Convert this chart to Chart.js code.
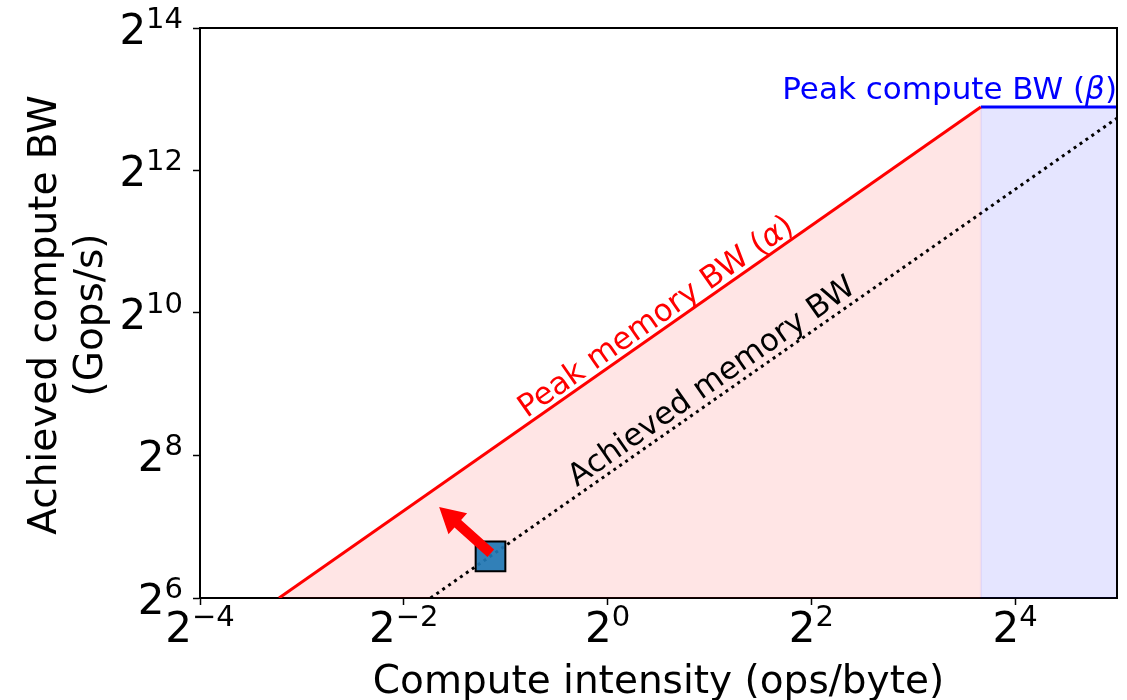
<!DOCTYPE html>
<html>
<head>
<meta charset="utf-8">
<script src="https://cdn.jsdelivr.net/npm/chart.js@4/dist/chart.umd.min.js"></script>
<style>
  html, body { margin: 0; padding: 0; background: #fff; }
  #wrap { width: 1127px; height: 700px; position: relative; }
</style>
</head>
<body>
<div id="wrap"><canvas id="roofline" width="1127" height="700"></canvas></div>
<script>
// Axis ranges and tick exponents (base 2)
const xTickExponents = [-4, -2, 0, 2, 4];
const yTickExponents = [6, 8, 10, 12, 14];
const xRange = [0.0625, 32];
const yRange = [64, 16384];

// Roofline: peak memory BW (alpha ~ 600 GB/s) and peak compute BW (beta ~ 7600 Gops/s)
const memRoofIntensity = [0.107, 12.67];
const memRoofPerf = [64, 7600];
const computeRoofIntensity = [12.67, 32];
const computeRoofPerf = [7600, 7600];

// Achieved memory bandwidth (~213 GB/s)
const achievedIntensity = [0.3, 32];
const achievedPerf = [64, 6816];

// Measured kernel and the direction of improvement
const kernelIntensity = [0.451];
const kernelPerf = [96];
const arrowFrom = [0.452, 99];
const arrowTo = [0.318, 155];

// Annotation anchors (data coordinates)
const peakMemLabelAt = [1.395, 980];
const achievedLabelAt = [2.04, 521];
const peakComputeLabelAt = [32, 7600];

const FONT = '"DejaVu Sans", "Liberation Sans", sans-serif';
const PLOT_BOX = { left: 200, top: 28, right: 1117, bottom: 598 };

function pts(xs, ys) { return xs.map((x, i) => ({ x: x, y: ys[i] })); }

// Draw a run of text pieces (some italic) starting at x
function drawRuns(ctx, runs, x, y, size, align) {
  const widths = runs.map(r => {
    ctx.font = (r.italic ? 'italic ' : '') + size + 'px ' + FONT;
    return ctx.measureText(r.t).width;
  });
  const total = widths.reduce((a, b) => a + b, 0);
  let cx = x;
  if (align === 'center') cx = x - total / 2;
  else if (align === 'right') cx = x - total;
  ctx.textAlign = 'left';
  runs.forEach((r, i) => {
    ctx.font = (r.italic ? 'italic ' : '') + size + 'px ' + FONT;
    ctx.fillText(r.t, cx, y);
    cx += widths[i];
  });
}

// "2" with a superscript exponent
function drawPow2(ctx, exp, x, baseline, align) {
  const baseSize = 42, expSize = 29;
  const expText = exp < 0 ? '\u2212' + Math.abs(exp) : String(exp);
  ctx.font = baseSize + 'px ' + FONT;
  const wb = ctx.measureText('2').width;
  ctx.font = expSize + 'px ' + FONT;
  const we = ctx.measureText(expText).width;
  const total = wb + we;
  let left = x;
  if (align === 'center') left = x - total / 2;
  else if (align === 'right') left = x - total;
  ctx.textAlign = 'left';
  ctx.textBaseline = 'alphabetic';
  ctx.font = baseSize + 'px ' + FONT;
  ctx.fillText('2', left, baseline);
  ctx.font = expSize + 'px ' + FONT;
  ctx.fillText(expText, left + wb, baseline - 16);
}

// Pin the plotting rectangle
const plotBox = {
  id: 'plotBox',
  afterLayout(chart) {
    const a = chart.chartArea;
    a.left = PLOT_BOX.left; a.top = PLOT_BOX.top;
    a.right = PLOT_BOX.right; a.bottom = PLOT_BOX.bottom;
    a.width = a.right - a.left; a.height = a.bottom - a.top;
    const xs = chart.scales.x, ys = chart.scales.y;
    xs.left = a.left; xs.right = a.right; xs.width = a.width;
    xs.top = a.bottom; xs.bottom = chart.height; xs.height = xs.bottom - xs.top;
    ys.top = a.top; ys.bottom = a.bottom; ys.height = a.height;
    ys.left = 0; ys.right = a.left; ys.width = a.left;
    xs.configure(); ys.configure();
  }
};

const decorations = {
  id: 'decorations',
  afterDatasetsDraw(chart) {
    const ctx = chart.ctx;
    const xs = chart.scales.x, ys = chart.scales.y;
    const area = chart.chartArea;

    // faint edge of the compute-bound region
    ctx.save();
    ctx.beginPath();
    ctx.rect(area.left, area.top, area.right - area.left, area.bottom - area.top);
    ctx.clip();
    const rx = xs.getPixelForValue(computeRoofIntensity[0]);
    ctx.strokeStyle = 'rgba(110, 0, 170, 0.08)';
    ctx.lineWidth = 2;
    ctx.beginPath();
    ctx.moveTo(rx, ys.getPixelForValue(computeRoofPerf[0]));
    ctx.lineTo(rx, area.bottom);
    ctx.stroke();
    ctx.restore();

    // improvement arrow
    const x0 = xs.getPixelForValue(arrowFrom[0]), y0 = ys.getPixelForValue(arrowFrom[1]);
    const x1 = xs.getPixelForValue(arrowTo[0]), y1 = ys.getPixelForValue(arrowTo[1]);
    const dx = x1 - x0, dy = y1 - y0;
    const len = Math.hypot(dx, dy);
    const ux = dx / len, uy = dy / len;
    const nx = -uy, ny = ux;
    const shaft = 5, headW = 14, headL = 25;
    const bx = x1 - ux * headL, by = y1 - uy * headL;
    ctx.save();
    ctx.fillStyle = '#ff0000';
    ctx.beginPath();
    ctx.moveTo(x0 + nx * shaft, y0 + ny * shaft);
    ctx.lineTo(bx + nx * shaft, by + ny * shaft);
    ctx.lineTo(bx + nx * headW, by + ny * headW);
    ctx.lineTo(x1, y1);
    ctx.lineTo(bx - nx * headW, by - ny * headW);
    ctx.lineTo(bx - nx * shaft, by - ny * shaft);
    ctx.lineTo(x0 - nx * shaft, y0 - ny * shaft);
    ctx.closePath();
    ctx.fill();
    ctx.restore();
  },
  afterDraw(chart) {
    const ctx = chart.ctx;
    const xs = chart.scales.x, ys = chart.scales.y;
    const area = chart.chartArea;

    // top and right spines
    ctx.save();
    ctx.strokeStyle = '#000';
    ctx.lineWidth = 2;
    ctx.beginPath();
    ctx.moveTo(area.left, area.top);
    ctx.lineTo(area.right, area.top);
    ctx.lineTo(area.right, area.bottom);
    ctx.stroke();
    ctx.restore();

    ctx.save();
    ctx.fillStyle = '#000';
    // tick labels
    xTickExponents.forEach(e => {
      drawPow2(ctx, e, xs.getPixelForValue(Math.pow(2, e)), area.bottom + 44, 'center');
    });
    yTickExponents.forEach(e => {
      drawPow2(ctx, e, area.left - 17, ys.getPixelForValue(Math.pow(2, e)) + 15.8, 'right');
    });

    // axis titles
    ctx.font = '39px ' + FONT;
    ctx.textAlign = 'center';
    ctx.textBaseline = 'alphabetic';
    ctx.fillText('Compute intensity (ops/byte)', (area.left + area.right) / 2, 693);
    const midY = (area.top + area.bottom) / 2 + 2;
    ctx.save();
    ctx.translate(56, midY);
    ctx.rotate(-Math.PI / 2);
    ctx.fillText('Achieved compute BW', 0, 0);
    ctx.restore();
    ctx.save();
    ctx.translate(102, midY);
    ctx.rotate(-Math.PI / 2);
    ctx.fillText('(Gops/s)', 0, 0);
    ctx.restore();

    // slope of the memory roof on screen
    const pa = [xs.getPixelForValue(memRoofIntensity[0]), ys.getPixelForValue(memRoofPerf[0])];
    const pb = [xs.getPixelForValue(memRoofIntensity[1]), ys.getPixelForValue(memRoofPerf[1])];
    const angle = Math.atan2(pb[1] - pa[1], pb[0] - pa[0]);

    ctx.textBaseline = 'middle';
    // Peak memory BW label
    ctx.save();
    ctx.translate(xs.getPixelForValue(peakMemLabelAt[0]), ys.getPixelForValue(peakMemLabelAt[1]));
    ctx.rotate(angle);
    ctx.fillStyle = '#ff0000';
    drawRuns(ctx, [{ t: 'Peak memory BW (' }, { t: '\u03b1', italic: true }, { t: ')' }], 0, 0, 31, 'center');
    ctx.restore();

    // Achieved memory BW label
    ctx.save();
    ctx.translate(xs.getPixelForValue(achievedLabelAt[0]), ys.getPixelForValue(achievedLabelAt[1]));
    ctx.rotate(angle);
    ctx.fillStyle = '#000';
    drawRuns(ctx, [{ t: 'Achieved memory BW' }], 0, 0, 31, 'center');
    ctx.restore();

    // Peak compute BW label
    ctx.textBaseline = 'alphabetic';
    ctx.fillStyle = '#0000ff';
    drawRuns(ctx, [{ t: 'Peak compute BW (' }, { t: '\u03b2', italic: true }, { t: ')' }],
      xs.getPixelForValue(peakComputeLabelAt[0]), ys.getPixelForValue(peakComputeLabelAt[1]) - 8, 31, 'right');
    ctx.restore();
  }
};

function pow2Ticks(exps) {
  return function (scale) {
    scale.ticks = exps.map(e => ({ value: Math.pow(2, e) }));
  };
}

new Chart(document.getElementById('roofline'), {
  type: 'scatter',
  data: {
    datasets: [
      {
        label: 'Kernel',
        data: pts(kernelIntensity, kernelPerf),
        pointStyle: 'rect',
        pointRadius: 21,
        pointHoverRadius: 21,
        backgroundColor: 'rgba(31, 119, 180, 0.92)',
        borderColor: '#000',
        borderWidth: 2,
        showLine: false,
        order: 0
      },
      {
        label: 'Achieved memory BW',
        data: pts(achievedIntensity, achievedPerf),
        showLine: true,
        borderColor: '#000',
        borderWidth: 3,
        borderDash: [3, 4.2],
        borderCapStyle: 'butt',
        pointRadius: 0,
        fill: false,
        order: 1
      },
      {
        label: 'Peak memory BW',
        data: pts(memRoofIntensity, memRoofPerf),
        showLine: true,
        borderColor: '#ff0000',
        borderWidth: 3,
        backgroundColor: 'rgba(255, 0, 0, 0.1)',
        fill: 'start',
        pointRadius: 0,
        order: 2
      },
      {
        label: 'Peak compute BW',
        data: pts(computeRoofIntensity, computeRoofPerf),
        showLine: true,
        borderColor: '#0000ff',
        borderWidth: 3,
        backgroundColor: 'rgba(0, 0, 255, 0.1)',
        fill: 'start',
        pointRadius: 0,
        order: 3
      }
    ]
  },
  options: {
    responsive: false,
    animation: false,
    devicePixelRatio: 1,
    layout: { padding: { left: 0, top: 28, right: 10, bottom: 0 } },
    plugins: {
      legend: { display: false },
      tooltip: { enabled: false },
      filler: { propagate: false }
    },
    events: [],
    scales: {
      x: {
        type: 'logarithmic',
        min: xRange[0],
        max: xRange[1],
        afterBuildTicks: pow2Ticks(xTickExponents),
        afterFit(scale) { scale.height = 102; },
        ticks: { display: false, autoSkip: false },
        grid: { display: true, drawOnChartArea: false, drawTicks: true, tickLength: 7, tickColor: '#000', tickWidth: 1.5 },
        border: { display: true, color: '#000', width: 2 }
      },
      y: {
        type: 'logarithmic',
        min: yRange[0],
        max: yRange[1],
        afterBuildTicks: pow2Ticks(yTickExponents),
        afterFit(scale) { scale.width = 200; },
        ticks: { display: false, autoSkip: false },
        grid: { display: true, drawOnChartArea: false, drawTicks: true, tickLength: 7, tickColor: '#000', tickWidth: 1.5 },
        border: { display: true, color: '#000', width: 2 }
      }
    }
  },
  plugins: [plotBox, decorations]
});
</script>
</body>
</html>
